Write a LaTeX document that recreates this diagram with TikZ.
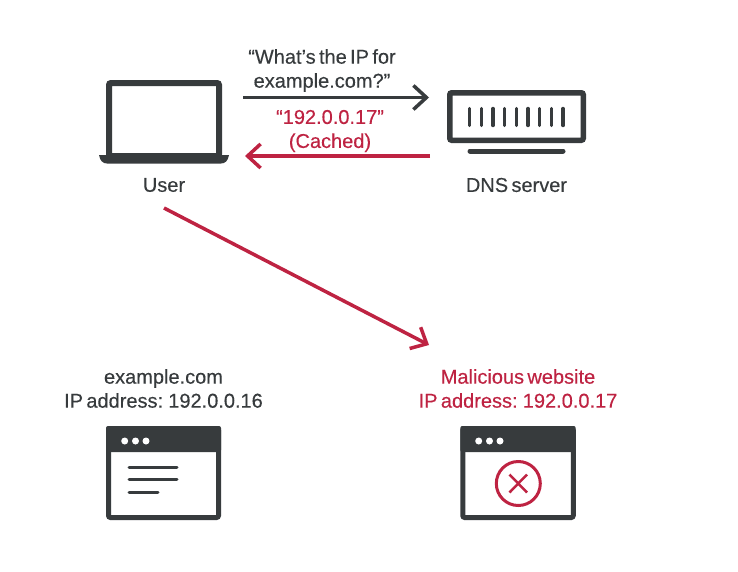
\documentclass[tikz,border=0pt]{standalone}
\usepackage{fontspec}
\setmainfont[FakeBold=0.3,WordSpace=0.6]{Liberation Sans}
\usetikzlibrary{arrows.meta}
\definecolor{darkgray}{HTML}{373B3D}
\definecolor{alertred}{HTML}{BE2342}
\tikzset{>={Straight Barb[length=13pt,width=24pt]}}
\tikzset{
	label/.style={font=\fontsize{20}{24}\selectfont, align=center, inner sep=0pt, text=darkgray},
	redlabel/.style={label, text=alertred},
	icon/.style={draw=darkgray, line width=6pt, rounded corners=2pt, inner sep=0pt, fill=white},
	arrowline/.style={->, line width=3.5pt, darkgray},
	redarrow/.style={->, line width=3.5pt, alertred},
	bar/.style={draw=darkgray, line width=3.4pt, line cap=round},
	dot/.style={circle, fill=white, minimum size=7pt, inner sep=0pt}
}
\begin{document}
\begin{tikzpicture}[x=1pt, y=-1pt]
		\useasboundingbox (0, 0) rectangle (738, 571);

		% Laptop
		\node [icon, minimum width=110pt, minimum height=73pt] (laptop) at (164, 119.5) {};
		\path [fill=darkgray] (99, 155) -- (229, 155) .. controls (228, 161) and (225, 163.5) .. (221, 163.5) -- (107, 163.5) .. controls (103, 163.5) and (100, 161) .. (99, 155) -- cycle;
		\node [label] (user) at (164, 185) {User};

		% DNS server
		\node [icon, line width=5.5pt, minimum width=133.5pt, minimum height=47.5pt] (server) at (516.5, 116.5) {};
		\foreach \i in {0,...,8}
			\draw [bar] (469.5+11.7*\i, 108.5) -- (469.5+11.7*\i, 125.5);
		\draw [bar, line width=5pt] (470, 151) -- (563, 151);
		\node [label] (dns) at (516.5, 185) {DNS server};

		% Messages
		\coordinate (askstart) at (243, 97.5);
		\coordinate (askend) at (429, 97.5);
		\coordinate (replystart) at (430, 156);
		\coordinate (replyend) at (245, 156);
		\node [label] (ask) at (322, 70.5) {“What’s the IP for\\example.com?”};
		\node [redlabel] (reply) at (330, 131) {“192.0.0.17”\\(Cached)};
		\draw [arrowline] (askstart) -- (askend);
		\draw [redarrow] (replystart) -- (replyend);

		% Redirect
		\coordinate (gostart) at (164, 208);
		\coordinate (goend) at (429, 345);
		\draw [redarrow] (gostart) -- (goend);

		% Real website
		\node [label] (real) at (163.5, 388.5) {example.com\\IP address: 192.0.0.16};
		\node [icon, line width=5pt, minimum width=110pt, minimum height=89pt] (realwin) at (163.5, 473) {};
		\path [fill=darkgray, rounded corners=2pt] (106, 452) |- (221, 426) -- (221, 452) -- cycle;
		\foreach \x in {124.7, 135.5, 146}
			\node [dot] at (\x, 441) {};
		\draw [bar, line width=3pt] (129, 467) -- (177, 467);
		\draw [bar, line width=3pt] (129, 479.5) -- (177, 479.5);
		\draw [bar, line width=3pt] (129, 492) -- (158, 492);

		% Malicious website
		\node [redlabel] (fake) at (518, 388.5) {Malicious website\\IP address: 192.0.0.17};
		\node [icon, line width=5pt, minimum width=110.5pt, minimum height=89pt] (fakewin) at (518, 473) {};
		\path [fill=darkgray, rounded corners=2pt] (460.3, 452) |- (575.7, 426) -- (575.7, 452) -- cycle;
		\foreach \x in {478.7, 489.5, 500}
			\node [dot] at (\x, 441) {};
		\node [circle, draw=alertred, line width=3pt, minimum size=44pt, inner sep=0pt] (stop) at (518.3, 483.5) {};
		\draw [alertred, line width=2.5pt] (509.5, 474.5) -- (527, 492.5);
		\draw [alertred, line width=2.5pt] (527, 474.5) -- (509.5, 492.5);

	\end{tikzpicture}
\end{document}
